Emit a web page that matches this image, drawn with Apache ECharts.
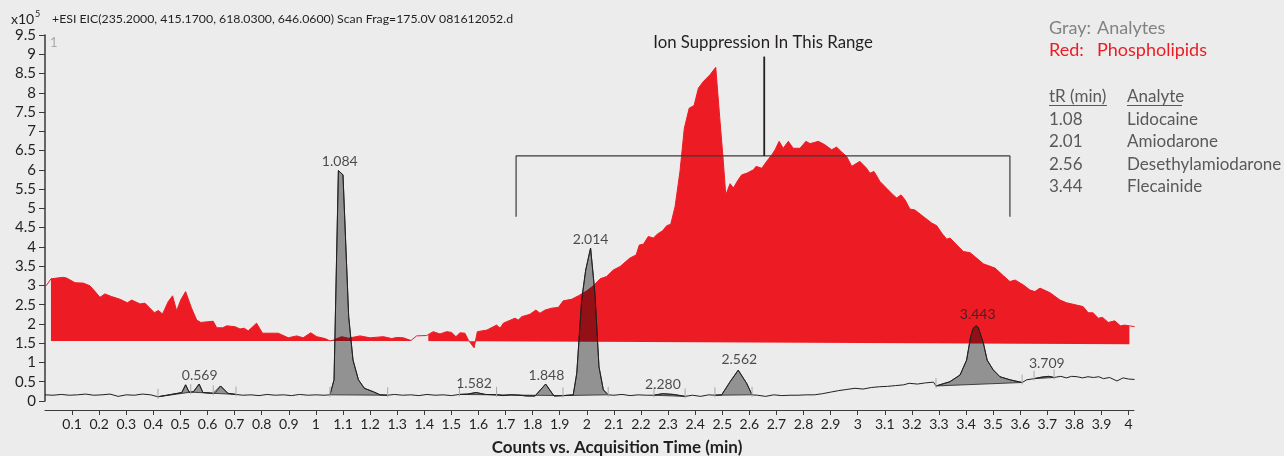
<!DOCTYPE html>
<html>
<head>
<meta charset="utf-8">
<title>EIC - ion suppression</title>
<script src="https://cdn.jsdelivr.net/npm/echarts@6/dist/echarts.min.js"></script>
<style>
  html, body { margin: 0; padding: 0; background: #ececec; }
  #chart { width: 1284px; height: 456px; }
</style>
</head>
<body>
<div id="chart"></div>
<script>
// x axis tick labels (min)
var xTicks = [0.1, 0.2, 0.3, 0.4, 0.5, 0.6, 0.7, 0.8, 0.9, 1.0,
              1.1, 1.2, 1.3, 1.4, 1.5, 1.6, 1.7, 1.8, 1.9, 2.0,
              2.1, 2.2, 2.3, 2.4, 2.5, 2.6, 2.7, 2.8, 2.9, 3.0,
              3.1, 3.2, 3.3, 3.4, 3.5, 3.6, 3.7, 3.8, 3.9, 4.0];

// phospholipid trace (red), [time, counts x10^5]
var redTrace = [
  [0.004,2.99],[0.022,3.17],[0.043,3.19],[0.068,3.21],[0.08,3.19],[0.111,3.07],[0.141,3.06],[0.166,2.99],
  [0.185,2.84],[0.203,2.69],[0.221,2.78],[0.246,2.71],[0.277,2.64],[0.304,2.55],[0.32,2.62],[0.351,2.52],
  [0.369,2.54],[0.404,2.29],[0.418,2.35],[0.434,2.26],[0.455,2.58],[0.471,2.73],[0.486,2.34],[0.501,2.62],
  [0.519,2.84],[0.541,2.41],[0.56,2.10],[0.575,2.04],[0.621,2.07],[0.634,1.90],[0.656,1.90],[0.671,1.95],
  [0.701,1.93],[0.72,1.87],[0.735,1.89],[0.75,1.82],[0.781,2.02],[0.803,1.76],[0.861,1.76],[0.898,1.64],
  [0.929,1.69],[0.953,1.64],[0.981,1.77],[1.003,1.67],[1.034,1.62],[1.052,1.56],[1.064,1.58],[1.095,1.67],
  [1.12,1.63],[1.163,1.69],[1.2,1.64],[1.249,1.67],[1.28,1.62],[1.298,1.65],[1.323,1.64],[1.351,1.57],
  [1.372,1.69],[1.409,1.70],[1.415,1.72],[1.433,1.80],[1.458,1.74],[1.483,1.80],[1.501,1.78],[1.517,1.67],
  [1.532,1.77],[1.55,1.76],[1.563,1.58],[1.584,1.38],[1.596,1.80],[1.631,1.84],[1.667,1.97],[1.68,1.89],
  [1.692,2.02],[1.735,2.15],[1.747,2.10],[1.76,2.19],[1.79,2.25],[1.812,2.36],[1.827,2.28],[1.846,2.36],
  [1.87,2.41],[1.895,2.43],[1.913,2.60],[1.944,2.64],[1.969,2.73],[2.0,2.86],[2.024,2.99],[2.049,3.17],
  [2.073,3.23],[2.098,3.40],[2.123,3.49],[2.159,3.71],[2.182,3.79],[2.194,4.05],[2.209,4.07],[2.227,4.27],
  [2.246,4.23],[2.26,4.33],[2.28,4.42],[2.295,4.55],[2.31,4.59],[2.326,5.05],[2.344,5.96],[2.36,7.08],
  [2.378,7.60],[2.396,7.67],[2.412,8.12],[2.43,8.29],[2.455,8.47],[2.476,8.66],[2.492,7.25],[2.504,6.22],
  [2.513,5.35],[2.529,5.64],[2.541,5.53],[2.559,5.74],[2.572,5.87],[2.59,5.91],[2.615,6.0],[2.625,6.09],
  [2.646,6.04],[2.664,6.22],[2.683,6.39],[2.695,6.52],[2.71,6.74],[2.725,6.56],[2.744,6.74],[2.762,6.56],
  [2.787,6.56],[2.809,6.74],[2.824,6.68],[2.855,6.74],[2.879,6.65],[2.904,6.52],[2.922,6.59],[2.941,6.46],
  [2.959,6.35],[2.978,6.09],[3.008,6.22],[3.033,6.04],[3.045,5.91],[3.06,5.96],[3.082,5.70],[3.107,5.52],
  [3.131,5.35],[3.144,5.27],[3.16,5.35],[3.175,5.22],[3.193,4.98],[3.211,4.96],[3.242,4.79],[3.273,4.62],
  [3.292,4.55],[3.31,4.36],[3.329,4.20],[3.341,4.23],[3.366,4.05],[3.39,3.88],[3.415,3.85],[3.439,3.71],
  [3.464,3.56],[3.507,3.45],[3.538,3.25],[3.562,3.10],[3.581,3.14],[3.612,3.01],[3.636,2.88],[3.654,2.84],
  [3.673,2.93],[3.71,2.81],[3.747,2.62],[3.771,2.55],[3.808,2.49],[3.832,2.45],[3.851,2.29],[3.869,2.29],
  [3.888,2.15],[3.904,2.17],[3.925,2.04],[3.949,2.08],[3.97,1.95],[3.985,1.97],[4.003,1.95],[4.022,1.93]
];
// filled parts of the red trace: [from, to, base at from, base at to]
var redFills = [[0.022, 1.351, 1.56, 1.56], [1.415, 4.003, 1.56, 1.47]];

// analyte trace (black line), [time, counts x10^5]
var grayTrace = [
  [0,0.16],[0.03,0.15],[0.06,0.17],[0.09,0.15],[0.12,0.16],[0.15,0.18],[0.18,0.15],[0.21,0.16],[0.24,0.18],
  [0.27,0.12],[0.30,0.16],[0.33,0.15],[0.36,0.18],[0.39,0.16],[0.417,0.11],[0.45,0.15],[0.49,0.2],[0.505,0.22],
  [0.519,0.42],[0.532,0.23],[0.538,0.23],[0.548,0.24],[0.569,0.44],[0.583,0.22],[0.621,0.2],[0.628,0.2],
  [0.648,0.39],[0.675,0.2],[0.705,0.17],[0.73,0.15],[0.76,0.16],[0.79,0.14],[0.82,0.17],[0.85,0.15],
  [0.88,0.16],[0.91,0.14],[0.94,0.17],[0.97,0.15],[1.0,0.16],[1.03,0.15],[1.052,0.16],[1.067,0.55],
  [1.083,5.98],[1.100,5.87],[1.121,2.19],[1.137,1.06],[1.157,0.55],[1.179,0.33],[1.212,0.24],[1.237,0.16],
  [1.265,0.15],[1.29,0.17],[1.32,0.15],[1.35,0.16],[1.38,0.14],[1.41,0.17],[1.44,0.15],[1.47,0.16],
  [1.50,0.14],[1.53,0.17],[1.56,0.18],[1.591,0.22],[1.625,0.17],[1.667,0.16],[1.69,0.14],[1.72,0.16],
  [1.75,0.15],[1.78,0.13],[1.809,0.13],[1.848,0.44],[1.879,0.13],[1.912,0.14],[1.95,0.16],[1.963,0.72],
  [1.981,2.62],[1.996,3.40],[2.014,3.97],[2.030,2.80],[2.045,0.89],[2.061,0.29],[2.079,0.16],[2.10,0.15],
  [2.13,0.17],[2.16,0.14],[2.19,0.16],[2.22,0.15],[2.248,0.15],[2.28,0.19],[2.32,0.17],[2.363,0.12],
  [2.39,0.15],[2.42,0.12],[2.45,0.16],[2.473,0.15],[2.498,0.16],[2.529,0.5],[2.559,0.8],[2.590,0.46],
  [2.61,0.16],[2.63,0.15],[2.66,0.12],[2.69,0.16],[2.72,0.14],[2.75,0.15],[2.78,0.15],[2.81,0.16],
  [2.84,0.16],[2.87,0.19],[2.90,0.23],[2.93,0.27],[2.96,0.30],[2.99,0.33],[3.02,0.31],[3.05,0.35],
  [3.08,0.37],[3.11,0.38],[3.14,0.40],[3.17,0.42],[3.19,0.46],[3.22,0.44],[3.25,0.47],[3.28,0.49],
  [3.289,0.39],[3.34,0.50],[3.378,0.675],[3.402,1.06],[3.417,1.67],[3.427,1.89],[3.437,1.95],[3.445,1.91],
  [3.464,1.50],[3.478,1.06],[3.500,0.81],[3.525,0.63],[3.562,0.55],[3.607,0.48],[3.624,0.55],[3.651,0.58],
  [3.68,0.62],[3.705,0.64],[3.725,0.61],[3.75,0.64],[3.77,0.60],[3.79,0.64],[3.81,0.63],[3.83,0.60],
  [3.85,0.63],[3.87,0.61],[3.89,0.63],[3.907,0.58],[3.93,0.61],[3.957,0.52],[3.98,0.60],[4.0,0.57],[4.022,0.56]
];
// integrated peaks: [start, end]
var peakRanges = [
  [0.417, 0.538], [0.538, 0.621], [0.621, 0.705], [1.052, 1.265], [1.53, 1.667], [1.667, 1.912],
  [1.912, 2.079], [2.248, 2.363], [2.473, 2.61], [3.289, 3.607], [3.651, 3.725]
];
// peak labels: [time, height, text]
var peakLabels = [
  [0.571, 0.44, '0.569'], [1.088, 5.98, '1.084'], [1.584, 0.22, '1.582'], [1.851, 0.44, '1.848'],
  [2.014, 3.97, '2.014'], [2.281, 0.19, '2.280'], [2.563, 0.84, '2.562'], [3.443, 2.0, '3.443'],
  [3.698, 0.75, '3.709']
];

// ion suppression bracket
var bracket = [[1.739, 4.78], [1.739, 6.36], [3.562, 6.36], [3.562, 4.78]];
var bracketStem = [[2.655, 6.36], [2.655, 8.94]];

// legend table
var analyteTimes = ['1.08', '2.01', '2.56', '3.44'];
var analyteNames = ['Lidocaine', 'Amiodarone', 'Desethylamiodarone', 'Flecainide'];

var RED = '#ed1c24';
var INK = '#231f20';
var FONT = 'Lato, "Open Sans", sans-serif';

function slice(trace, t0, t1) {
  return trace.filter(function (p) { return p[0] >= t0 - 1e-9 && p[0] <= t1 + 1e-9; });
}
function traceAt(trace, t) {
  for (var i = 0; i < trace.length; i++) {
    if (Math.abs(trace[i][0] - t) < 1e-9) return trace[i][1];
  }
  return 0;
}

var tickTimes = [];
peakRanges.forEach(function (r) {
  if (tickTimes.indexOf(r[0]) < 0) tickTimes.push(r[0]);
  if (tickTimes.indexOf(r[1]) < 0) tickTimes.push(r[1]);
});

var graphics = [
  { type: 'text', x: 11, y: 19, style: { text: 'x10', fill: INK, font: '14px ' + FONT, verticalAlign: 'middle' } },
  { type: 'text', x: 35, y: 14, style: { text: '5', fill: INK, font: '9px ' + FONT, verticalAlign: 'middle' } },
  { type: 'text', x: 52, y: 19, style: { text: '+ESI EIC(235.2000, 415.1700, 618.0300, 646.0600) Scan Frag=175.0V 081612052.d', fill: INK, font: '12.3px ' + FONT, verticalAlign: 'middle' } },
  { type: 'text', x: 50, y: 43, style: { text: '1', fill: '#a7a9ac', font: '13px ' + FONT, verticalAlign: 'middle' } },
  { type: 'text', x: 763, y: 43, style: { text: 'Ion Suppression In This Range', fill: INK, font: '16.8px ' + FONT, align: 'center', verticalAlign: 'middle' } },
  { type: 'text', x: 617, y: 448, style: { text: 'Counts vs. Acquisition Time (min)', fill: INK, font: 'bold 17px ' + FONT, align: 'center', verticalAlign: 'middle' } },
  { type: 'text', x: 1049, y: 28, style: { text: 'Gray:', fill: '#808285', font: '18px ' + FONT, verticalAlign: 'middle' } },
  { type: 'text', x: 1097, y: 28, style: { text: 'Analytes', fill: '#808285', font: '18px ' + FONT, verticalAlign: 'middle' } },
  { type: 'text', x: 1049, y: 50, style: { text: 'Red:', fill: RED, font: '18px ' + FONT, verticalAlign: 'middle' } },
  { type: 'text', x: 1097, y: 50, style: { text: 'Phospholipids', fill: RED, font: '18px ' + FONT, verticalAlign: 'middle' } },
  { type: 'text', x: 1049, y: 97, style: { text: 'tR (min)', fill: '#58595b', font: '17px ' + FONT, verticalAlign: 'middle' } },
  { type: 'text', x: 1127, y: 97, style: { text: 'Analyte', fill: '#58595b', font: '17px ' + FONT, verticalAlign: 'middle' } },
  { type: 'line', shape: { x1: 1049, y1: 105.5, x2: 1107, y2: 105.5 }, style: { stroke: '#58595b', lineWidth: 1 } },
  { type: 'line', shape: { x1: 1127, y1: 105.5, x2: 1182, y2: 105.5 }, style: { stroke: '#58595b', lineWidth: 1 } }
];
analyteTimes.forEach(function (t, i) {
  var y = 119.5 + i * 22.5;
  graphics.push({ type: 'text', x: 1049, y: y, style: { text: t, fill: '#58595b', font: '17px ' + FONT, verticalAlign: 'middle' } });
  graphics.push({ type: 'text', x: 1127, y: y, style: { text: analyteNames[i], fill: '#58595b', font: '17px ' + FONT, verticalAlign: 'middle' } });
});

var chart = echarts.init(document.getElementById('chart'));
chart.setOption({
  animation: false,
  backgroundColor: '#ececec',
  textStyle: { fontFamily: FONT },
  grid: { left: 45, right: 150, top: 35, bottom: 55, outerBoundsMode: 'none' },
  xAxis: {
    type: 'value', min: 0, max: 4.02, interval: 0.1, offset: 9,
    axisLine: { onZero: false, lineStyle: { color: '#3a3a3a', width: 1 } },
    axisTick: { length: 5, customValues: xTicks, lineStyle: { color: '#3a3a3a' } },
    axisLabel: {
      customValues: xTicks, color: INK, fontSize: 14, margin: 7,
      formatter: function (v) { return String(Math.round(v * 10) / 10); }
    },
    splitLine: { show: false }
  },
  yAxis: {
    type: 'value', min: 0, max: 9.5, interval: 0.5,
    axisLine: { show: true, onZero: false, lineStyle: { color: '#3a3a3a', width: 1.5 } },
    axisTick: { show: true, length: 6, lineStyle: { color: '#3a3a3a' } },
    axisLabel: { color: INK, fontSize: 15, margin: 9 },
    splitLine: { show: false }
  },
  graphic: graphics,
  series: [
    {
      type: 'custom', name: 'red fill', z: 1, silent: true,
      data: redFills, encode: { x: [0, 1], y: [2, 3] },
      renderItem: function (params, api) {
        var f = redFills[params.dataIndex];
        var pts = slice(redTrace, f[0], f[1]).map(function (p) { return api.coord(p); });
        pts.push(api.coord([f[1], f[3]]));
        pts.push(api.coord([f[0], f[2]]));
        return { type: 'polygon', shape: { points: pts }, style: { fill: RED } };
      }
    },
    {
      type: 'line', name: 'Phospholipids', z: 2, silent: true, data: redTrace,
      showSymbol: false, lineStyle: { color: RED, width: 1 }
    },
    {
      // translucent dark fill: gray on the background, dark red where it lies on the red area
      type: 'custom', name: 'peaks', z: 3, silent: true,
      data: peakRanges, encode: { x: [0, 1] },
      renderItem: function (params, api) {
        var r = peakRanges[params.dataIndex];
        var pts = slice(grayTrace, r[0], r[1]).map(function (p) { return api.coord(p); });
        return {
          type: 'polygon', shape: { points: pts },
          style: { fill: 'rgba(0,0,0,0.38)', stroke: INK, lineWidth: 0.8 }
        };
      }
    },
    {
      type: 'line', name: 'Analytes', z: 4, silent: true, data: grayTrace,
      showSymbol: false, lineStyle: { color: INK, width: 1 }
    },
    {
      type: 'custom', name: 'peak ticks', z: 5, silent: true,
      data: tickTimes, encode: { x: 0 },
      renderItem: function (params, api) {
        var t = tickTimes[params.dataIndex];
        var v = traceAt(grayTrace, t);
        var a = api.coord([t, v]);
        return {
          type: 'line', shape: { x1: a[0], y1: a[1] + 2, x2: a[0], y2: a[1] - 8 },
          style: { stroke: '#a7a9ac', lineWidth: 1 }
        };
      }
    },
    {
      type: 'scatter', name: 'peak labels', z: 6, silent: true, data: peakLabels, symbolSize: 0,
      label: {
        show: true, position: 'top', distance: 2, color: INK, fontSize: 14, fontFamily: FONT,
        formatter: function (p) { return p.value[2]; }
      }
    },
    {
      type: 'line', name: 'bracket', z: 6, silent: true, data: bracket, showSymbol: false,
      lineStyle: { color: '#3a3a3a', width: 1.2 }
    },
    {
      type: 'line', name: 'stem', z: 6, silent: true, data: bracketStem, showSymbol: false,
      lineStyle: { color: INK, width: 1.8 }
    }
  ]
});
</script>
</body>
</html>
